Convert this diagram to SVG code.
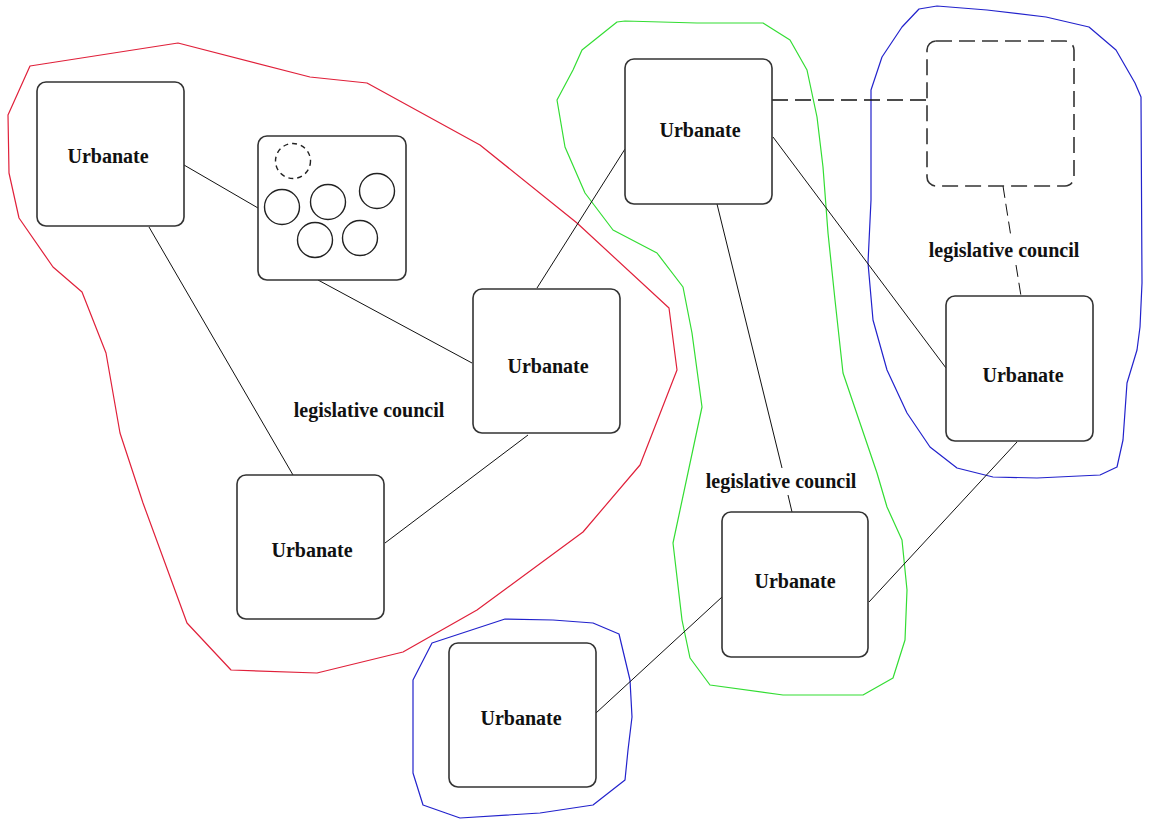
<svg xmlns="http://www.w3.org/2000/svg" width="1149" height="819" viewBox="0 0 1149 819">
<style>
.hull{fill:none;stroke-width:1.2;stroke-linejoin:round}
.node rect{fill:#fff;stroke:#333;stroke-width:1.6}
.edge{stroke:#111;stroke-width:1;fill:none}
.dash{stroke-dasharray:16,7;stroke-width:1.5}
.lbl{font-family:"Liberation Serif","Times New Roman",serif;font-weight:bold;font-size:20px;fill:#111;text-anchor:middle}
.c{fill:none;stroke:#222;stroke-width:1.4}
</style>
<rect width="1149" height="819" fill="#fff"/>
<g id="hulls">
<polygon class="hull" stroke="#e0203a" points="30,66 178,43 310,77 367,83 480,145 577,223 669,308 677,370 640,465 583,532 477,610 403,652 317,673 231,670 187,623 143,503 120,433 106,353 82,292 53,267 19,218 9,173 8,115"/>
<polygon class="hull" stroke="#33dd33" points="617,22 625,21 697,23 763,23 790,40 807,70 817,117 823,167 828,233 835,300 843,373 877,473 887,507 902,540 907,590 905,640 893,678 863,695 783,695 710,685 690,658 682,620 673,543 702,407 692,333 683,287 657,253 613,230 585,193 565,147 557,100 573,70 582,50"/>
<polygon class="hull" stroke="#2222cc" points="871,90 882,57 902,27 919,9 937,6 987,10 1046,17 1089,27 1116,50 1135,83 1141,97 1142,283 1140,327 1137,350 1127,383 1123,440 1117,467 1100,475 1037,478 993,477 957,468 930,447 907,413 887,370 873,320 868,263 871,200"/>
<polygon class="hull" stroke="#2222cc" points="432,643 505,619 553,620 593,623 619,634 630,680 632,717 628,750 625,780 593,805 540,813 460,818 423,805 413,773 413,680"/>
</g>
<g id="connectors">
<line class="edge" x1="184" y1="165" x2="258" y2="208"/>
<line class="edge" x1="149" y1="227" x2="293" y2="475"/>
<line class="edge" x1="318" y1="280" x2="472" y2="363"/>
<line class="edge" x1="528" y1="435" x2="385" y2="543"/>
<line class="edge" x1="537" y1="288" x2="625" y2="149"/>
<line class="edge dash" x1="772" y1="100" x2="927" y2="100"/>
<line class="edge dash" x1="1003" y1="186" x2="1011" y2="237" style="stroke-width:1;stroke-dasharray:12,6"/>
<line class="edge dash" x1="1016" y1="265" x2="1021" y2="296" style="stroke-width:1;stroke-dasharray:12,6"/>
<line class="edge" x1="773" y1="137" x2="946" y2="368"/>
<line class="edge" x1="717" y1="204" x2="782" y2="468"/>
<line class="edge" x1="788" y1="495" x2="792" y2="512"/>
<line class="edge" x1="1017" y1="442" x2="869" y2="602"/>
<line class="edge" x1="722" y1="597" x2="596" y2="713"/>
<text class="lbl" x="369" y="417">legislative council</text>
<text class="lbl" x="781" y="488">legislative council</text>
<text class="lbl" x="1004" y="257">legislative council</text>
</g>
<g id="nodeA" class="node"><rect x="37" y="82" width="147" height="144" rx="9"/><text class="lbl" x="108" y="163">Urbanate</text></g>
<g id="nodeB" class="node"><rect x="258" y="136" width="148" height="144" rx="9"/>
<circle class="c" cx="293" cy="161" r="17.5" stroke-dasharray="5,4"/>
<circle class="c" cx="282" cy="207" r="17.5"/>
<circle class="c" cx="328" cy="202" r="17.5"/>
<circle class="c" cx="377" cy="191" r="17.5"/>
<circle class="c" cx="315" cy="240" r="17.5"/>
<circle class="c" cx="360" cy="238" r="17.5"/>
</g>
<g id="nodeC" class="node"><rect x="473" y="289" width="147" height="144" rx="9"/><text class="lbl" x="548" y="373">Urbanate</text></g>
<g id="nodeD" class="node"><rect x="237" y="475" width="147" height="144" rx="9"/><text class="lbl" x="312" y="557">Urbanate</text></g>
<g id="nodeE" class="node"><rect x="625" y="59" width="147" height="145" rx="9"/><text class="lbl" x="700" y="137">Urbanate</text></g>
<g id="nodeF" class="node"><rect x="927" y="41" width="147" height="145" rx="9" stroke-dasharray="16,7"/></g>
<g id="nodeG" class="node"><rect x="946" y="296" width="147" height="145" rx="9"/><text class="lbl" x="1023" y="382">Urbanate</text></g>
<g id="nodeH" class="node"><rect x="722" y="512" width="146" height="145" rx="9"/><text class="lbl" x="795" y="588">Urbanate</text></g>
<g id="nodeI" class="node"><rect x="449" y="643" width="147" height="144" rx="9"/><text class="lbl" x="521" y="725">Urbanate</text></g>
</svg>
